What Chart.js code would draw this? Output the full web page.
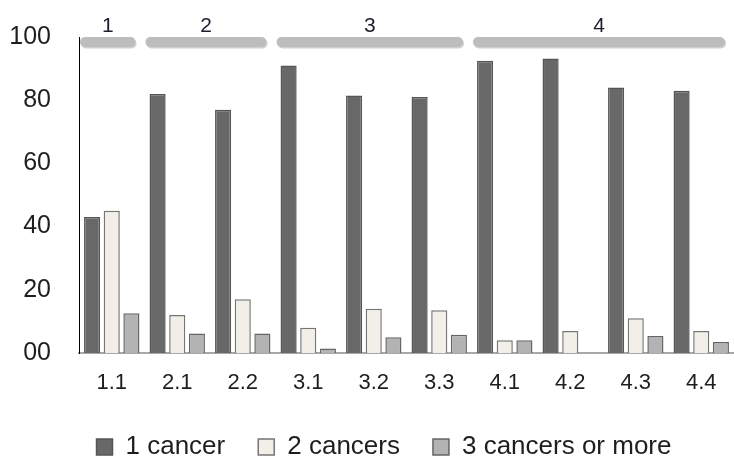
<!DOCTYPE html>
<html>
<head>
<meta charset="utf-8">
<script src="https://cdn.jsdelivr.net/npm/chart.js@4/dist/chart.umd.min.js"></script>
<style>
    html, body { margin: 0; padding: 0; background: #ffffff; }
    #wrap { width: 734px; height: 461px; position: relative; }
</style>
</head>
<body>
<div id="wrap"><canvas id="cancer-chart" width="734" height="461"></canvas></div>
<script>
// --- Data ---
const categories = ['1.1', '2.1', '2.2', '3.1', '3.2', '3.3', '4.1', '4.2', '4.3', '4.4'];
const oneCancer = [43, 82, 77, 91, 81.5, 81, 92.5, 93.2, 84, 83];
const twoCancers = [45, 12, 17, 8, 14, 13.5, 4, 7, 11, 7];
const threeOrMore = [12.6, 6.2, 6.2, 1.4, 5, 5.8, 4, 0, 5.4, 3.5];
const yTicks = [0, 20, 40, 60, 80, 100];

// group headers drawn above the bars (label, first category index, last category index)
const groupLabels = ['1', '2', '3', '4'];
const groupStart = [0, 1, 3, 6];
const groupEnd = [0, 2, 5, 9];

const FONT = '"Liberation Sans", Arial, sans-serif';

// Draws the grey rounded bars with the group numbers on top of the plot
const groupHeaderPlugin = {
    id: 'groupHeaders',
    afterLayout(chart) {
        // legend in the source sits right of the page centre
        chart.legend.left += 17;
        chart.legend.right += 17;
    },
    afterDatasetsDraw(chart) {
        const ctx = chart.ctx;
        const x = chart.scales.x;
        const area = chart.chartArea;
        const half = (x.getPixelForValue(1) - x.getPixelForValue(0)) / 2;
        const barY = area.top + 5;

        ctx.save();
        groupLabels.forEach((label, i) => {
            // round caps add 5px on each end
            const left = x.getPixelForValue(groupStart[i]) - half + 6;
            const right = x.getPixelForValue(groupEnd[i]) + half - 14;

            // soft shadow under the bar
            ctx.lineCap = 'round';
            ctx.lineWidth = 10;
            ctx.strokeStyle = 'rgba(120,120,120,0.35)';
            ctx.beginPath();
            ctx.moveTo(left + 1, barY + 1.5);
            ctx.lineTo(right + 1, barY + 1.5);
            ctx.stroke();

            ctx.strokeStyle = '#bdbdbd';
            ctx.beginPath();
            ctx.moveTo(left, barY);
            ctx.lineTo(right, barY);
            ctx.stroke();

            ctx.fillStyle = '#1c1c2e';
            ctx.font = '21px ' + FONT;
            ctx.textAlign = 'center';
            ctx.textBaseline = 'middle';
            ctx.fillText(label, (left + right) / 2, area.top - 11);
        });
        ctx.restore();
    }
};

const ctx = document.getElementById('cancer-chart').getContext('2d');
const cancerChart = new Chart(ctx, {
    type: 'bar',
    data: {
        labels: categories,
        datasets: [
            {
                label: '1 cancer',
                data: oneCancer,
                backgroundColor: '#686868',
                borderColor: '#555555',
                borderWidth: 1.5
            },
            {
                label: '2 cancers',
                data: twoCancers,
                backgroundColor: '#f1efe8',
                borderColor: '#767676',
                borderWidth: 1.5
            },
            {
                label: '3 cancers or more',
                data: threeOrMore,
                backgroundColor: '#b3b3b3',
                borderColor: '#666666',
                borderWidth: 1.5
            }
        ]
    },
    options: {
        responsive: false,
        animation: false,
        layout: {
            padding: { left: 0, right: 0, top: 37, bottom: -9 }
        },
        datasets: {
            bar: {
                categoryPercentage: 0.9,
                barPercentage: 0.82,
                borderSkipped: 'bottom'
            }
        },
        scales: {
            x: {
                afterFit: function(scale) {
                    scale.height = 48;
                },
                grid: { display: false, drawTicks: false },
                border: { display: true, color: '#a8a8a8', width: 2 },
                ticks: {
                    color: '#1e1e1e',
                    font: { family: FONT, size: 22 },
                    padding: 17,
                    maxRotation: 0
                }
            },
            y: {
                min: 0,
                max: 100,
                afterFit: function(scale) {
                    scale.width = 79; // plot left edge at x=79
                    scale.paddingTop = 0;
                    scale.paddingBottom = 0;
                },
                afterBuildTicks: function(scale) {
                    scale.ticks = yTicks.map(v => ({ value: v }));
                },
                grid: { display: false, drawTicks: false },
                border: { display: true, color: '#000000', width: 1 },
                ticks: {
                    color: '#1e1e1e',
                    font: { family: FONT, size: 25 },
                    padding: 28,
                    callback: function(value) {
                        return value === 0 ? '00' : value; // as printed in the source figure
                    }
                }
            }
        },
        plugins: {
            legend: {
                position: 'bottom',
                labels: {
                    color: '#1e1e1e',
                    font: { family: FONT, size: 26 },
                    boxWidth: 16,
                    boxHeight: 16,
                    padding: 33
                }
            },
            tooltip: { enabled: false }
        }
    },
    plugins: [groupHeaderPlugin]
});
</script>
</body>
</html>
